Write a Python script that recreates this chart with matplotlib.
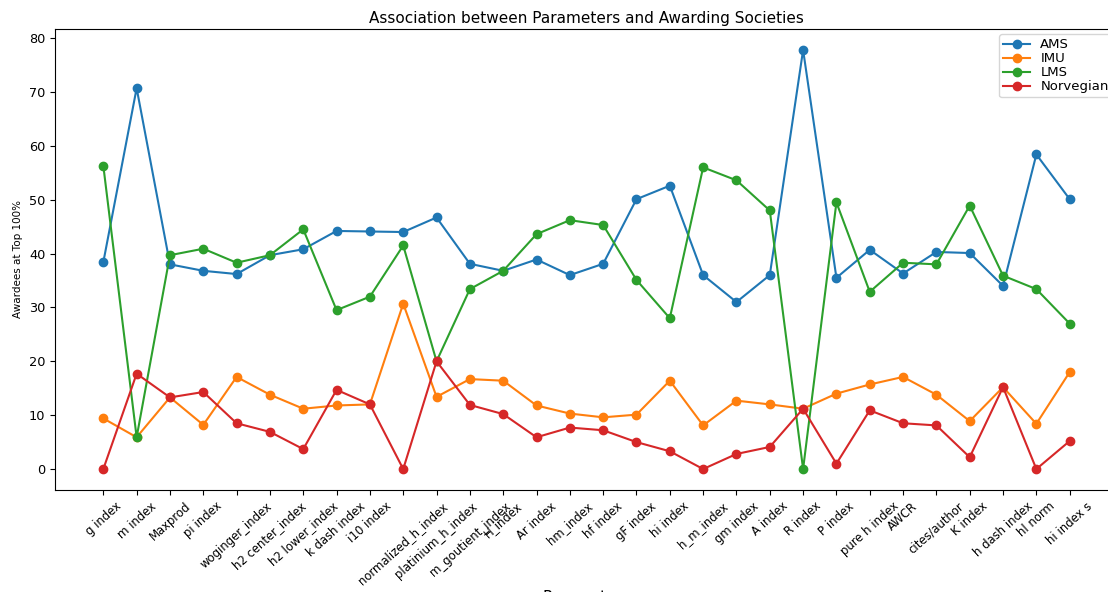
import matplotlib
matplotlib.use("Agg")
import matplotlib.pyplot as plt

parameters = ["g index", "m index", "Maxprod", "pi index", "woginger_index",
              "h2 center_index", "h2 lower_index", "k dash index", "i10 index",
              "normalized_h_index", "platinium_h_index", "m_goutient_index",
              "H_index", "Ar index", "hm_index", "hf index", "gF index",
              "hi index", "h_m_index", "gm index", "A index", "R index",
              "P index", "pure h index", "AWCR", "cites/author", "K index",
              "h dash index", "hl norm", "hi index s"]

ams = [38.4, 70.7, 38.0, 36.8, 36.2, 39.7, 40.8, 44.2, 44.1, 44.0,
       46.7, 38.1, 36.8, 38.9, 36.0, 38.1, 50.1, 52.6, 36.0, 31.0,
       36.0, 77.8, 35.5, 40.7, 36.3, 40.3, 40.1, 34.0, 58.4, 50.1]
imu = [9.4, 5.9, 13.3, 8.2, 17.1, 13.8, 11.2, 11.8, 12.0, 30.7,
       13.4, 16.7, 16.4, 11.8, 10.3, 9.6, 10.1, 16.4, 8.1, 12.7,
       12.0, 11.2, 14.0, 15.7, 17.1, 13.8, 8.9, 15.2, 8.4, 18.0]
lms = [56.3, 5.9, 39.7, 40.9, 38.3, 39.7, 44.5, 29.5, 32.0, 41.5,
       20.0, 33.4, 36.8, 43.6, 46.2, 45.3, 35.1, 28.0, 56.0, 53.6,
       48.0, 0.0, 49.5, 32.9, 38.3, 38.0, 48.9, 35.9, 33.4, 27.0]
norvegian = [0.0, 17.7, 13.3, 14.3, 8.5, 6.9, 3.7, 14.7, 12.0, 0.0,
             20.0, 11.9, 10.2, 5.9, 7.7, 7.2, 5.0, 3.3, 0.0, 2.8,
             4.1, 11.2, 1.0, 10.9, 8.5, 8.1, 2.2, 15.2, 0.0, 5.2]

series_names = ["AMS", "IMU", "LMS", "Norvegian"]
series_values = [ams, imu, lms, norvegian]

fig = plt.figure(figsize=(11.08, 5.92), dpi=100)
ax = fig.add_axes([55 / 1108, 102 / 592, 1063 / 1108, 461 / 592])

x = list(range(len(parameters)))
for name, vals in zip(series_names, series_values):
    ax.plot(x, vals, marker="o", label=name)

ax.set_xticks(x)
ax.set_xticklabels(parameters, rotation=42, fontsize=8.4)
ax.tick_params(axis="y", labelsize=9.3)
ax.set_title("Association between Parameters and Awarding Societies", fontsize=11, pad=4)
ax.set_xlabel("Parameters", fontsize=11, labelpad=2)
ax.set_ylabel("Awardees at Top 100%", fontsize=7.5)
ax.legend(loc="upper right", fontsize=9.5, labelspacing=0.08, borderaxespad=0.4,
          borderpad=0.3)

fig.savefig("out.png", dpi=100)
